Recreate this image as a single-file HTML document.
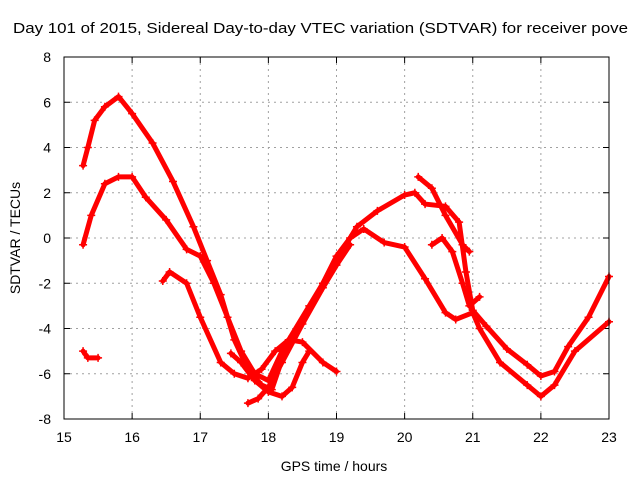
<!DOCTYPE html>
<html><head><meta charset="utf-8"><style>
body{margin:0;background:#fff;}
svg{display:block;font-family:"Liberation Sans",sans-serif;}
</style></head><body>
<svg id="chart" width="640" height="480">
<text x="13" y="33" font-size="15" textLength="615" lengthAdjust="spacingAndGlyphs">Day 101 of 2015, Sidereal Day-to-day VTEC variation (SDTVAR) for receiver pove</text>
<text x="334" y="471" font-size="14" text-anchor="middle">GPS time / hours</text>
<text transform="translate(20,238) rotate(-90)" font-size="14" text-anchor="middle">SDTVAR / TECUs</text>
<g id="grid"></g><g id="series"></g>
<rect x="64" y="57" width="545" height="362" fill="none" stroke="#000" stroke-width="1"/>
</svg>
<script>
const xTicks=[15,16,17,18,19,20,21,22,23];
const yTicks=[-8,-6,-4,-2,0,2,4,6,8];
const trackA=[[15.28,3.2],[15.35,4.0],[15.45,5.2],[15.6,5.8],[15.8,6.25],[16.0,5.5],[16.3,4.2],[16.6,2.5],[16.9,0.5],[17.1,-1],[17.3,-2.5],[17.5,-4.5],[17.7,-5.8],[17.9,-6.5],[18.05,-6.7],[18.3,-4.5],[18.6,-3.0],[19.0,-1.0],[19.3,0.5],[19.6,1.2],[20.0,1.9],[20.15,2.0],[20.3,1.5],[20.6,1.4],[20.8,0.7],[20.9,-1.5],[21.0,-3.2],[21.2,-3.9],[21.5,-4.9],[21.8,-5.6],[22.0,-6.1],[22.2,-5.9],[22.4,-4.8],[22.7,-3.5],[23.0,-1.7]];
const trackB=[[15.28,-0.3],[15.4,1.0],[15.6,2.4],[15.8,2.7],[16.0,2.7],[16.2,1.8],[16.5,0.8],[16.8,-0.5],[17.0,-0.8],[17.2,-2.0],[17.4,-3.5],[17.6,-5.0],[17.8,-6.0],[18.0,-6.3],[18.2,-5.0],[18.5,-3.7],[18.8,-2.0],[19.0,-0.8],[19.2,0.0],[19.4,0.4],[19.7,-0.2],[20.0,-0.4],[20.3,-1.8],[20.6,-3.3],[20.75,-3.6],[21.0,-3.3],[21.1,-4.0],[21.4,-5.5],[21.8,-6.5],[22.0,-7.0],[22.2,-6.5],[22.5,-5.0],[23.0,-3.7]];
const trackC=[[16.45,-1.9],[16.55,-1.5],[16.8,-2.0],[17.0,-3.5],[17.3,-5.5],[17.5,-6.0],[17.7,-6.2],[17.9,-5.8],[18.1,-5.0],[18.3,-4.5],[18.5,-4.6],[18.8,-5.5],[19.0,-5.9]];
const trackD=[[17.7,-7.3],[17.85,-7.1],[18.0,-6.6],[18.2,-5.5],[18.5,-3.8],[18.8,-2.2],[19.0,-1.2],[19.2,-0.3]];
const trackE=[[17.45,-5.1],[17.6,-5.5],[17.8,-6.3],[18.0,-6.8],[18.2,-7.0],[18.35,-6.6],[18.5,-5.5],[18.6,-5.0]];
const trackF=[[15.28,-5.0],[15.35,-5.3],[15.5,-5.3]];
const trackG=[[20.2,2.7],[20.4,2.2],[20.6,1.0],[20.85,-0.3],[20.95,-0.6]];
const trackH=[[20.4,-0.3],[20.55,0.0],[20.7,-0.6],[20.85,-2.0],[20.95,-3.0],[21.1,-2.6]];
const tracks=[trackA,trackB,trackC,trackD,trackE,trackF,trackG,trackH];
const NS="http://www.w3.org/2000/svg";
const sx=h=>64+(h-15)*545/8, sy=v=>57+(8-v)*362/16;
const grid=document.getElementById('grid'), ser=document.getElementById('series');
function mk(tag,attrs,parent){const e=document.createElementNS(NS,tag);for(const k in attrs)e.setAttribute(k,attrs[k]);parent.appendChild(e);return e;}
xTicks.forEach(t=>{const x=sx(t);
 if(t>15&&t<23){const l=mk('line',{x1:x,x2:x,y1:57,y2:419,stroke:'#a0a0a0','stroke-dasharray':'2,4'},grid);}
 const tk=mk('line',{x1:x,x2:x,y1:419,y2:413,stroke:'#000'},grid);
 const tk2=mk('line',{x1:x,x2:x,y1:57,y2:63,stroke:'#000'},grid);
 const tx=mk('text',{x:x,y:442,'font-size':14,'text-anchor':'middle'},grid);tx.textContent=t;});
yTicks.forEach(t=>{const y=sy(t);
 if(t>-8&&t<8){const l=mk('line',{x1:64,x2:609,y1:y,y2:y,stroke:'#a0a0a0','stroke-dasharray':'2,4'},grid);}
 const tk=mk('line',{x1:64,x2:70,y1:y,y2:y,stroke:'#000'},grid);
 const tk2=mk('line',{x1:603,x2:609,y1:y,y2:y,stroke:'#000'},grid);
 const tx=mk('text',{x:51,y:y+5,'font-size':14,'text-anchor':'end'},grid);tx.textContent=t;});
tracks.forEach(tr=>{
 const pl=mk('polyline',{points:tr.map(p=>sx(p[0])+','+sy(p[1])).join(' '),fill:'none',stroke:'#f00','stroke-width':5,'stroke-linejoin':'round','stroke-linecap':'round'},ser);
 
 
 tr.forEach(p=>{const x=sx(p[0]),y=sy(p[1]);
  const m=mk('path',{d:`M${x-4},${y}H${x+4}M${x},${y-4}V${y+4}`,stroke:'#f00','stroke-width':1.5},ser);
  
  });
});
</script>
</body></html>
